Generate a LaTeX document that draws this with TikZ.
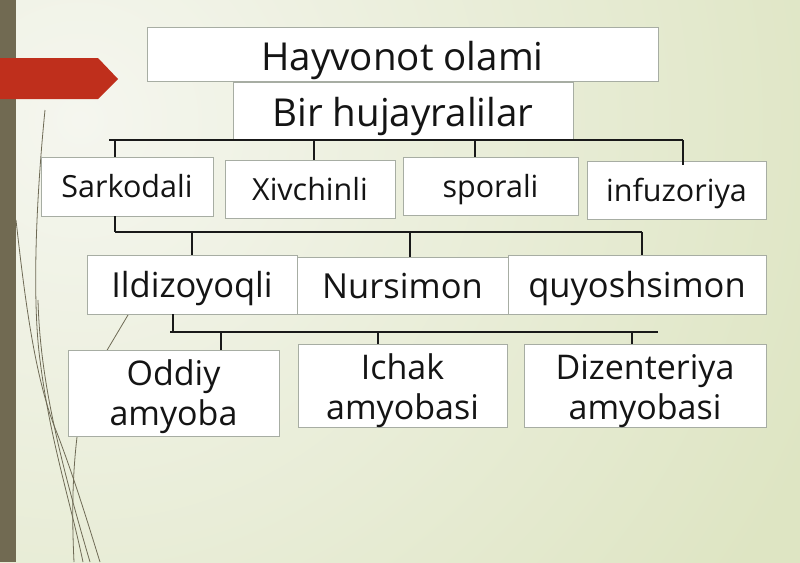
\documentclass[tikz,border=0pt]{standalone}
\usepackage{fontspec}
\setmainfont{Open Sans}
\usetikzlibrary{calc}
\definecolor{bgin}{HTML}{F5F6EF}
\definecolor{bgout}{HTML}{DEE5C3}
\definecolor{barcol}{HTML}{716A52}
\definecolor{arrowred}{HTML}{BF2F1C}
\definecolor{boxline}{HTML}{A7ADA3}
\definecolor{deco}{HTML}{6E6A55}
\tikzset{
  box/.style={draw=boxline, line width=0.8pt, fill=white, inner sep=0pt, text=black!92, align=center},
  bigt/.style={font=\fontsize{38.5}{40}\selectfont, text height=40pt, text depth=8pt},
  midt/.style={font=\fontsize{30.5}{32}\selectfont, text height=30pt, text depth=8pt},
  lowt/.style={font=\fontsize{34.5}{36}\selectfont, text height=35pt, text depth=9pt},
  twot/.style={font=\fontsize{34}{40}\selectfont},
  conn/.style={draw=black!90, line width=1.3pt},
  barline/.style={draw=black!90, line width=1.8pt},
  decoline/.style={draw=deco, line width=0.8pt},
}
\begin{document}
\begin{tikzpicture}[x=1pt,y=-1pt]
\useasboundingbox (0,0) rectangle (800,562);
% background
\begin{scope}
\clip (0,0) rectangle (800,562);
\shade[inner color=bgin, outer color=bgout] (-720,-680) rectangle (880,920);
\end{scope}
% left bar
\fill[barcol] (0,0) rectangle (16,562);
% decorative curves
\draw[decoline] (45,110) .. controls (36,200) and (32,300) .. (40,360) .. controls (50,440) and (70,500) .. (83,562);
\draw[decoline] (16,220) .. controls (25,300) and (35,380) .. (57,433) .. controls (75,480) and (90,530) .. (100,562);
\draw[decoline] (38,300) .. controls (40,380) and (60,460) .. (90,562);
\draw[decoline] (77,437) .. controls (72,480) and (72,520) .. (74,562);
\draw[decoline] (128,315) -- (106,352);
% red arrow
\fill[arrowred] (0,58) -- (98,58) -- (118,79) -- (98,99) -- (0,99) -- cycle;
% boxes
\node[box, bigt, minimum width=511pt, minimum height=54pt] (top) at (402.5,54) {Hayvonot olami};
\node[box, bigt, text height=39pt, text depth=9pt, minimum width=340pt, minimum height=58pt] (bir) at (403,111) {Bir hujayralilar};
\node[box, midt, minimum width=172pt, minimum height=59pt] (sark) at (127,186.5) {Sarkodali};
\node[box, midt, minimum width=170pt, minimum height=58pt] (xiv) at (310,189) {Xivchinli};
\node[box, midt, minimum width=175pt, minimum height=58pt] (spor) at (490.5,186) {sporali};
\node[box, midt, minimum width=179pt, minimum height=58pt] (infu) at (676.5,190) {infuzoriya};
\node[box, lowt, minimum width=210pt, minimum height=59pt] (ild) at (192,284.5) {Ildizoyoqli};
\node[box, lowt, minimum width=211pt, minimum height=57pt] (nurs) at (402.5,285.5) {Nursimon};
\node[box, lowt, minimum width=258pt, minimum height=59pt] (quy) at (637,284.5) {quyoshsimon};
\node[box, twot, minimum width=211pt, minimum height=86pt] (odd) at (173.5,393) {\rule{0pt}{33pt}Oddiy\\amyoba};
\node[box, twot, minimum width=209pt, minimum height=78pt] (ich) at (402.5,386) {\rule{0pt}{35pt}Ichak\\amyobasi};
\node[box, twot, minimum width=242pt, minimum height=80pt] (diz) at (645,386) {\rule{0pt}{35pt}Dizenteriya\\amyobasi};
% level 1 connectors
\coordinate (aL) at (109,140);
\coordinate (aR) at (683,140);
\draw[barline] (aL) -- (aR);
\draw[conn] ([xshift=-12pt]sark.north) -- ([xshift=-12pt]sark.north |- aL);
\draw[conn] ([xshift=4pt]xiv.north) -- ([xshift=4pt]xiv.north |- aL);
\draw[conn] ([xshift=-15.5pt]spor.north) -- ([xshift=-15.5pt]spor.north |- aL);
\draw[conn] ([xshift=6.5pt,yshift=-4pt]infu.north) -- ([xshift=6.5pt]infu.north |- aL);
% level 2 connectors
\coordinate (bL) at (115,232);
\coordinate (bR) at (642,232);
\draw[barline] (bL) -- (bR);
\draw[conn] ([xshift=-12pt]sark.south) -- ([xshift=-12pt]sark.south |- bL);
\draw[conn] (ild.north) -- (ild.north |- bL);
\draw[conn] ([xshift=7.5pt]nurs.north) -- ([xshift=7.5pt]nurs.north |- bL);
\draw[conn] ([xshift=5pt]quy.north) -- ([xshift=5pt]quy.north |- bL);
% level 3 connectors
\coordinate (cL) at (170,332);
\coordinate (cR) at (658,332);
\draw[barline] (cL) -- (cR);
\draw[conn] ([xshift=-19pt]ild.south) -- ([xshift=-19pt]ild.south |- cL);
\draw[conn] ([xshift=47.5pt]odd.north) -- ([xshift=47.5pt]odd.north |- cL);
\draw[conn] ([xshift=-24.5pt]ich.north) -- ([xshift=-24.5pt]ich.north |- cL);
\draw[conn] ([xshift=-13pt]diz.north) -- ([xshift=-13pt]diz.north |- cL);
\end{tikzpicture}
\end{document}
